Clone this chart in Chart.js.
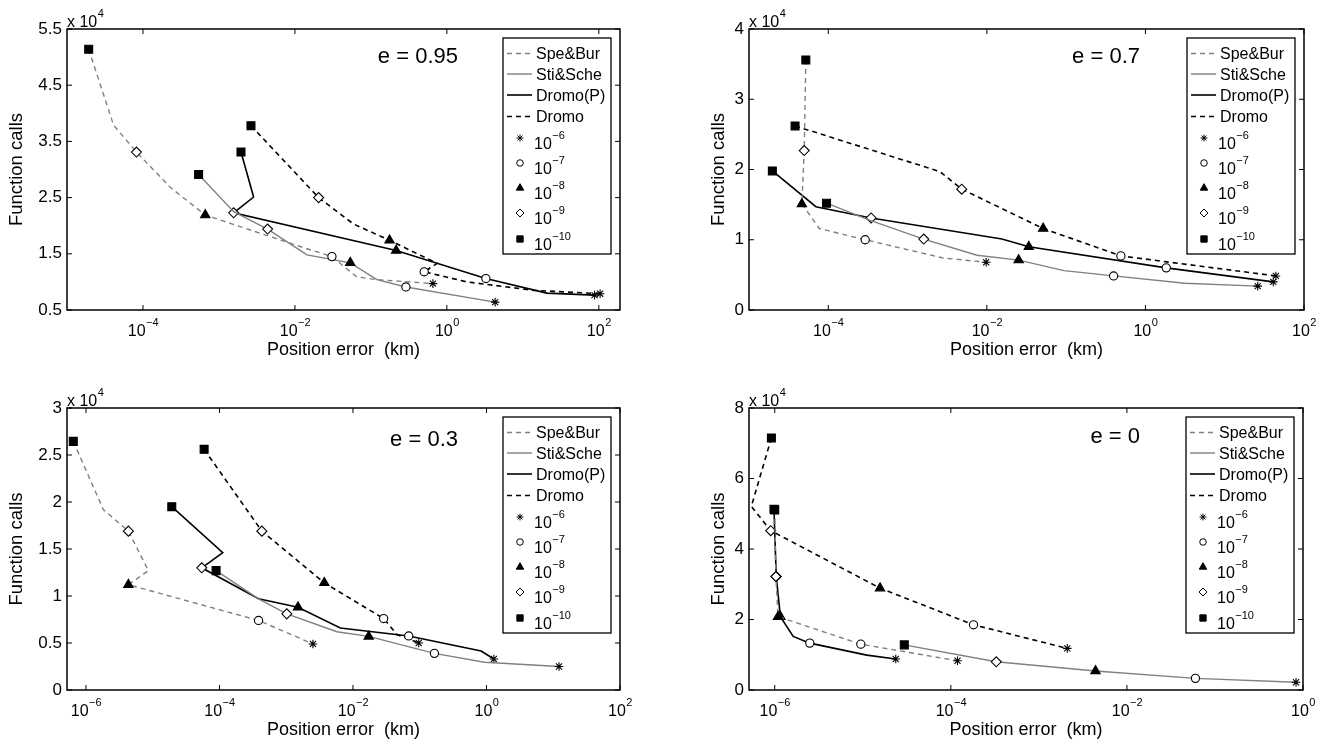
<!DOCTYPE html>
<html>
<head>
<meta charset="utf-8">
<title>Function calls vs position error</title>
<script src="https://cdn.jsdelivr.net/npm/chart.js@4.4.0/dist/chart.umd.min.js"></script>
<style>
body { margin: 0; background: #fff; }
#wrap { position: relative; width: 1341px; height: 749px; overflow: hidden; }
canvas { position: absolute; }
</style>
</head>
<body>
<div id="wrap">
  <canvas id="c095" width="670" height="375" style="left:0;top:0"></canvas>
  <canvas id="c07" width="641" height="375" style="left:700px;top:0"></canvas>
  <canvas id="c03" width="670" height="374" style="left:0;top:375px"></canvas>
  <canvas id="c0" width="641" height="374" style="left:700px;top:375px"></canvas>
</div>
<script>
// each row: [position error (km), function calls, tolerance exponent (0 = no marker)]
const e095SpeBur = [[1.93e-5, 51400, 10], [4.1e-5, 37900, 0], [8.2e-5, 33100, 9], [2.3e-4, 26800, 0], [6.6e-4, 21900, 8], [1.44e-2, 15900, 0], [3.07e-2, 14500, 7], [6.5e-2, 10900, 0], [0.12, 10400, 0], [0.655, 9700, 6]];
const e095StiSche = [[5.4e-4, 29100, 10], [1.56e-3, 22500, 0], [4.37e-3, 19400, 9], [1.44e-2, 14800, 0], [5.35e-2, 13400, 8], [0.12, 10400, 0], [0.289, 9100, 7], [4.32, 6400, 6]];
const e095DromoP = [[1.95e-3, 33100, 10], [2.86e-3, 25100, 0], [1.56e-3, 22300, 9], [0.215, 15600, 8], [3.26, 10600, 7], [20.7, 8000, 0], [87.8, 7650, 6]];
const e095Dromo = [[2.64e-3, 37800, 10], [2.05e-2, 25000, 9], [5.9e-2, 20300, 0], [0.176, 17400, 8], [0.745, 13300, 0], [0.503, 11800, 7], [1.83, 10000, 0], [13.8, 8500, 0], [104, 7900, 6]];

const e07SpeBur = [[5.21e-5, 35600, 10], [4.97e-5, 22700, 9], [4.64e-5, 15100, 8], [7.7e-5, 11600, 0], [2.92e-4, 10000, 7], [2.82e-3, 7400, 0], [9.8e-3, 6800, 6]];
const e07StiSche = [[9.5e-5, 15200, 10], [3.3e-4, 12800, 0], [1.6e-3, 10100, 9], [7.5e-3, 7800, 0], [2.52e-2, 7100, 8], [9.4e-2, 5600, 0], [0.397, 4850, 7], [3.13, 3800, 0], [26.1, 3400, 6]];
const e07DromoP = [[1.97e-5, 19800, 10], [6.98e-5, 14700, 0], [3.47e-4, 13100, 9], [1.55e-2, 10100, 0], [3.38e-2, 9000, 8], [1.83, 6000, 7], [41, 4000, 6]];
const e07Dromo = [[3.81e-5, 26200, 10], [2.56e-3, 19700, 0], [4.82e-3, 17200, 9], [5.13e-2, 11600, 8], [0.49, 7700, 7], [44.2, 4850, 6]];

const e03SpeBur = [[6.46e-7, 26450, 10], [1.82e-6, 19200, 0], [4.32e-6, 16900, 9], [8.6e-6, 12700, 0], [4.32e-6, 11200, 8], [3.85e-4, 7400, 7], [2.51e-3, 4900, 6]];
const e03StiSche = [[8.9e-5, 12700, 10], [3.85e-4, 9700, 0], [1.02e-3, 8100, 9], [5.75e-3, 6200, 0], [1.72e-2, 5700, 8], [0.166, 3900, 7], [0.933, 2950, 0], [12.2, 2500, 6]];
const e03DromoP = [[1.93e-5, 19500, 10], [1.12e-4, 14600, 0], [5.43e-5, 13000, 9], [3.85e-4, 9700, 0], [1.5e-3, 8800, 8], [6.46e-3, 6600, 0], [6.84e-2, 5750, 7], [0.832, 4150, 0], [1.29, 3300, 6]];
const e03Dromo = [[5.89e-5, 25600, 10], [4.32e-4, 16900, 9], [3.72e-3, 11400, 8], [2.88e-2, 7600, 7], [4.57e-2, 5900, 0], [9.66e-2, 5000, 6]];

const e0SpeBur = [[1.0e-6, 51100, 10], [1.03e-6, 32200, 9], [1.09e-6, 20800, 8], [9.5e-6, 13000, 7], [1.19e-4, 8300, 6]];
const e0StiSche = [[2.96e-5, 12800, 10], [3.28e-4, 8000, 9], [4.4e-3, 5400, 8], [6.0e-2, 3300, 7], [0.834, 2200, 6]];
const e0DromoP = [[9.8e-7, 51300, 10], [1.04e-6, 32200, 9], [1.16e-6, 20800, 8], [1.62e-6, 15200, 0], [2.5e-6, 13300, 7], [1.11e-5, 9900, 0], [2.37e-5, 8800, 6]];
const e0Dromo = [[9.16e-7, 71500, 10], [5.42e-7, 52100, 0], [9.0e-7, 45200, 9], [1.57e-5, 28900, 8], [1.81e-4, 18500, 7], [2.1e-3, 11800, 6]];

const seriesNames = ['Spe&Bur', 'Sti&Sche', 'Dromo(P)', 'Dromo'];
const tolExps = [6, 7, 8, 9, 10];
const eLabels = ['e = 0.95', 'e = 0.7', 'e = 0.3', 'e = 0'];

const xTicksA = [1e-4, 1e-2, 1, 100];
const xTicksB = [1e-6, 1e-4, 1e-2, 1, 100];
const xTicksC = [1e-6, 1e-4, 1e-2, 1];
const yTicks095 = [5000, 15000, 25000, 35000, 45000, 55000];
const yTicks07 = [0, 10000, 20000, 30000, 40000];
const yTicks03 = [0, 5000, 10000, 15000, 20000, 25000, 30000];
const yTicks0 = [0, 20000, 40000, 60000, 80000];

const xTitle = 'Position error  (km)';
const yTitle = 'Function calls';

const FONT = '"Liberation Sans", Arial, Helvetica, sans-serif';
Chart.defaults.font.family = FONT;
Chart.defaults.color = '#000';

const seriesStyle = [
    { color: '#808080', dash: [5, 4], width: 1.4 },
    { color: '#808080', dash: [], width: 1.4 },
    { color: '#000000', dash: [], width: 1.6 },
    { color: '#000000', dash: [5, 4], width: 1.6 }
];
const markStyle = { 6: 'star', 7: 'circle', 8: 'triangle', 9: 'rectRot', 10: 'rect' };
const markRadius = { 6: 4.3, 7: 4.1, 8: 5.4, 9: 5, 10: 5.6 };
const markFill = { 6: '#000', 7: '#fff', 8: '#000', 9: '#fff', 10: '#000' };

function expText(e) {
    return e < 0 ? '\u2212' + Math.abs(e) : String(e);
}

// "10" with a raised exponent, like the MATLAB tick labels
function drawPow(ctx, x, y, e, align) {
    ctx.font = '16px ' + FONT;
    const w1 = ctx.measureText('10').width;
    ctx.font = '11px ' + FONT;
    const txt = expText(e);
    const w2 = ctx.measureText(txt).width;
    const x0 = align === 'center' ? x - (w1 + w2) / 2 : x;
    ctx.textAlign = 'left';
    ctx.font = '16px ' + FONT;
    ctx.fillText('10', x0, y);
    ctx.font = '11px ' + FONT;
    ctx.fillText(txt, x0 + w1 + 0.5, y - 10);
}

function drawLegend(ctx, a) {
    const w = 108, h = 216;
    const x0 = a.right - 9 - w, y0 = a.top + 9;
    ctx.fillStyle = '#fff';
    ctx.fillRect(x0, y0, w, h);
    ctx.strokeStyle = '#000';
    ctx.lineWidth = 1.3;
    ctx.setLineDash([]);
    ctx.strokeRect(x0, y0, w, h);

    const lineRows = [15.5, 36, 57, 78.5];
    seriesNames.forEach((name, i) => {
        const st = seriesStyle[i];
        const y = y0 + lineRows[i];
        ctx.beginPath();
        ctx.strokeStyle = st.color;
        ctx.lineWidth = st.width;
        ctx.setLineDash(st.dash);
        ctx.moveTo(x0 + 4, y);
        ctx.lineTo(x0 + 29, y);
        ctx.stroke();
        ctx.setLineDash([]);
        ctx.fillStyle = '#000';
        ctx.font = '16px ' + FONT;
        ctx.textAlign = 'left';
        ctx.fillText(name, x0 + 33, y + 5.7);
    });

    const markRows = [100, 125, 150, 175, 201];
    tolExps.forEach((e, i) => {
        const y = y0 + markRows[i];
        ctx.fillStyle = markFill[e];
        ctx.strokeStyle = '#000';
        ctx.lineWidth = 1;
        if (Chart.helpers && Chart.helpers.drawPoint) {
            Chart.helpers.drawPoint(ctx, { pointStyle: markStyle[e], radius: markRadius[e] * 0.8, borderWidth: 1, rotation: 0 }, x0 + 17, y);
        }
        ctx.fillStyle = '#000';
        drawPow(ctx, x0 + 31, y + 10.5, -e, 'left');
    });
}

const matlabAxes = {
    id: 'matlabAxes',
    afterDatasetsDraw(chart, args, opts) {
        const ctx = chart.ctx;
        const a = chart.chartArea;
        const xs = chart.scales.x;
        const ys = chart.scales.y;
        ctx.save();
        ctx.strokeStyle = '#000';
        ctx.lineWidth = 1.5;
        ctx.setLineDash([]);
        ctx.strokeRect(a.left, a.top, a.right - a.left, a.bottom - a.top);

        // inward ticks on all four sides
        ctx.beginPath();
        ctx.lineWidth = 1;
        xs.ticks.forEach(t => {
            const px = xs.getPixelForValue(t.value);
            ctx.moveTo(px, a.bottom);
            ctx.lineTo(px, a.bottom - 5);
            ctx.moveTo(px, a.top);
            ctx.lineTo(px, a.top + 5);
        });
        ys.ticks.forEach(t => {
            const py = ys.getPixelForValue(t.value);
            ctx.moveTo(a.left, py);
            ctx.lineTo(a.left + 5, py);
            ctx.moveTo(a.right, py);
            ctx.lineTo(a.right - 5, py);
        });
        ctx.stroke();

        ctx.fillStyle = '#000';
        ctx.textBaseline = 'alphabetic';
        xs.ticks.forEach(t => {
            drawPow(ctx, xs.getPixelForValue(t.value), a.bottom + 26, Math.round(Math.log10(t.value)), 'center');
        });

        // "x 10^4" multiplier above the y axis
        ctx.textAlign = 'left';
        ctx.font = '16px ' + FONT;
        ctx.fillText('x 10', a.left, a.top - 2.5);
        const wm = ctx.measureText('x 10').width;
        ctx.font = '11px ' + FONT;
        ctx.fillText('4', a.left + wm + 0.5, a.top - 12);

        ctx.font = '22px ' + FONT;
        ctx.textAlign = 'right';
        ctx.fillText(opts.label, a.left + 391, a.top + opts.labelY);

        drawLegend(ctx, a);
        ctx.restore();
    }
};

function makeDataset(rows, i) {
    const st = seriesStyle[i];
    return {
        label: seriesNames[i],
        data: rows.map(r => ({ x: r[0], y: r[1], tol: r[2] })),
        showLine: true,
        borderColor: st.color,
        borderDash: st.dash,
        borderWidth: st.width,
        tension: 0,
        pointStyle: c => (c.raw && c.raw.tol ? markStyle[c.raw.tol] : 'circle'),
        pointRadius: c => (c.raw && c.raw.tol ? markRadius[c.raw.tol] : 0),
        pointBackgroundColor: c => (c.raw && c.raw.tol ? markFill[c.raw.tol] : '#000'),
        pointBorderColor: '#000',
        pointBorderWidth: 1.1,
        pointHoverRadius: 0,
        pointHitRadius: 0
    };
}

const panels = [
    { id: 'c095', label: eLabels[0], labelY: 34, series: [e095SpeBur, e095StiSche, e095DromoP, e095Dromo],
      xMin: 1e-5, xMax: 190, xTicks: xTicksA, yMin: 5000, yMax: 55000, yTicks: yTicks095,
      yAxisW: 67, titlePad: 6, pad: { left: 0, top: 29, right: 50, bottom: 14 } },
    { id: 'c07', label: eLabels[1], labelY: 34, series: [e07SpeBur, e07StiSche, e07DromoP, e07Dromo],
      xMin: 1e-5, xMax: 100, xTicks: xTicksA, yMin: 0, yMax: 40000, yTicks: yTicks07,
      yAxisW: 49, titlePad: 8, pad: { left: 0, top: 29, right: 37, bottom: 14 } },
    { id: 'c03', label: eLabels[2], labelY: 38, series: [e03SpeBur, e03StiSche, e03DromoP, e03Dromo],
      xMin: 5.2e-7, xMax: 100, xTicks: xTicksB, yMin: 0, yMax: 30000, yTicks: yTicks03,
      yAxisW: 67, titlePad: 6, pad: { left: 0, top: 33, right: 50, bottom: 8 } },
    { id: 'c0', label: eLabels[3], labelY: 35, series: [e0SpeBur, e0StiSche, e0DromoP, e0Dromo],
      xMin: 5.1e-7, xMax: 1, xTicks: xTicksC, yMin: 0, yMax: 80000, yTicks: yTicks0,
      yAxisW: 49, titlePad: 8, pad: { left: 0, top: 33, right: 38, bottom: 8 } }
];

panels.forEach(p => {
    const ctx = document.getElementById(p.id).getContext('2d');
    new Chart(ctx, {
        type: 'scatter',
        data: { datasets: p.series.map((rows, i) => makeDataset(rows, i)) },
        plugins: [matlabAxes],
        options: {
            responsive: false,
            animation: false,
            events: [],
            layout: { padding: p.pad },
            plugins: {
                legend: { display: false },
                tooltip: { enabled: false },
                matlabAxes: { label: p.label, labelY: p.labelY }
            },
            scales: {
                x: {
                    type: 'logarithmic',
                    min: p.xMin,
                    max: p.xMax,
                    ticks: { display: false },
                    grid: { display: false, drawTicks: false },
                    border: { display: false },
                    title: { display: true, text: xTitle, font: { size: 18 }, color: '#000', padding: { top: 0, bottom: 0 } },
                    afterBuildTicks: s => { s.ticks = p.xTicks.map(v => ({ value: v })); },
                    afterFit: s => { s.height = 51; }
                },
                y: {
                    type: 'linear',
                    min: p.yMin,
                    max: p.yMax,
                    ticks: { font: { size: 17 }, color: '#000', padding: 5, callback: v => String(v / 1e4) },
                    grid: { display: false, drawTicks: false },
                    border: { display: false },
                    title: { display: true, text: yTitle, font: { size: 18.5 }, color: '#000', padding: { top: p.titlePad, bottom: 0 } },
                    afterBuildTicks: s => { s.ticks = p.yTicks.map(v => ({ value: v })); },
                    afterFit: s => { s.width = p.yAxisW; }
                }
            }
        }
    });
});
</script>
</body>
</html>
